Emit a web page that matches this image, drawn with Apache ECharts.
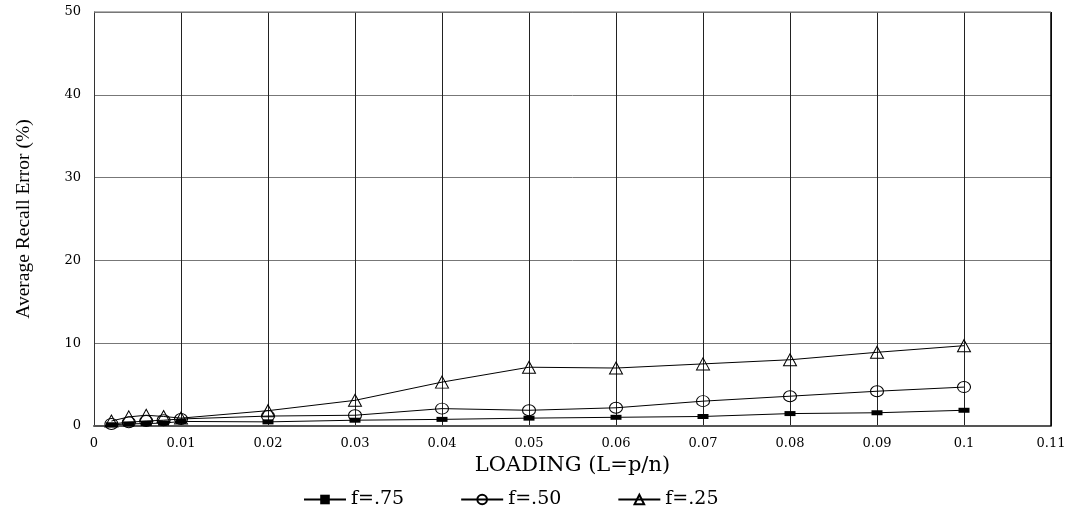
<!DOCTYPE html>
<html>
<head>
<meta charset="utf-8">
<script src="https://cdn.jsdelivr.net/npm/echarts@6/dist/echarts.min.js"></script>
<style>html,body{margin:0;padding:0;background:#fff;}#chart{width:1074px;height:513px;}</style>
</head>
<body>
<div id="chart"></div>
<script>
const loading = [0.002, 0.004, 0.006, 0.008, 0.01, 0.02, 0.03, 0.04, 0.05, 0.06, 0.07, 0.08, 0.09, 0.1];
const f75 = [0.15, 0.25, 0.3, 0.35, 0.55, 0.5, 0.7, 0.8, 0.95, 1.05, 1.15, 1.5, 1.6, 1.9];
const f50 = [0.25, 0.45, 0.6, 0.7, 0.85, 1.2, 1.3, 2.1, 1.9, 2.2, 3.0, 3.6, 4.2, 4.7];
const f25 = [0.6, 1.1, 1.3, 1.15, 0.95, 1.85, 3.1, 5.3, 7.1, 7.0, 7.5, 8.0, 8.9, 9.7];
const seriesNames = ['f=.75', 'f=.50', 'f=.25'];

const pairs = ys => loading.map((x, i) => [x, ys[i]]);
const wide = 'DejaVu Serif';
const serif = 'Liberation Serif';
const chart = echarts.init(document.getElementById('chart'));
const mk = (name, ys, symbol, size, fill) => ({
  name, type: 'line', data: pairs(ys), symbol, symbolSize: size,
  showAllSymbol: true, z: 3,
  lineStyle: {color: '#000', width: 1},
  itemStyle: {color: fill, borderColor: '#000', borderWidth: fill === '#000' ? 0 : 1},
  emphasis: {disabled: true}
});
chart.setOption({
  animation: false,
  grid: {left: 94, right: 23, top: 12, bottom: 87},
  legend: {
    top: 485, left: 298, itemWidth: 42, itemHeight: 12, itemGap: 56,
    textStyle: {fontFamily: wide, fontSize: 19, color: '#000'},
    data: seriesNames
  },
  xAxis: {
    type: 'value', min: 0, max: 0.11, interval: 0.01,
    name: 'LOADING (L=p/n)', nameLocation: 'middle', nameGap: 28,
    nameTextStyle: {fontFamily: wide, fontSize: 21, color: '#000'},
    axisLine: {lineStyle: {color: '#555', width: 2}},
    axisTick: {show: false},
    axisLabel: {fontFamily: wide, fontSize: 13, color: '#000', margin: 11,
      formatter: v => String(+v.toFixed(2))},
    splitLine: {show: true, lineStyle: {color: '#222', width: 1}}
  },
  yAxis: {
    type: 'value', min: 0, max: 50, interval: 10,
    name: 'Average Recall Error (%)', nameLocation: 'middle', nameGap: 60,
    nameTextStyle: {fontFamily: serif, fontSize: 19.5, color: '#000'},
    axisLine: {show: true, lineStyle: {color: '#333', width: 1}},
    axisTick: {show: false},
    axisLabel: {fontFamily: wide, fontSize: 13, color: '#000', margin: 13},
    splitLine: {show: true, lineStyle: {color: '#777', width: 1}}
  },
  series: [
    mk(seriesNames[0], f75, 'rect', [11, 5], '#000'),
    mk(seriesNames[1], f50, 'circle', [13, 11], 'rgba(0,0,0,0)'),
    mk(seriesNames[2], f25, 'triangle', [13, 12], 'rgba(0,0,0,0)'),
    {type: 'line', data: [[0.11, 0], [0.11, 50]], symbol: 'none', silent: true,
     lineStyle: {color: '#000', width: 1.5}},
    {type: 'line', data: [[0, 50], [0.11, 50]], symbol: 'none', silent: true,
     lineStyle: {color: '#777', width: 1.5}}
  ]
});
</script>
</body>
</html>
